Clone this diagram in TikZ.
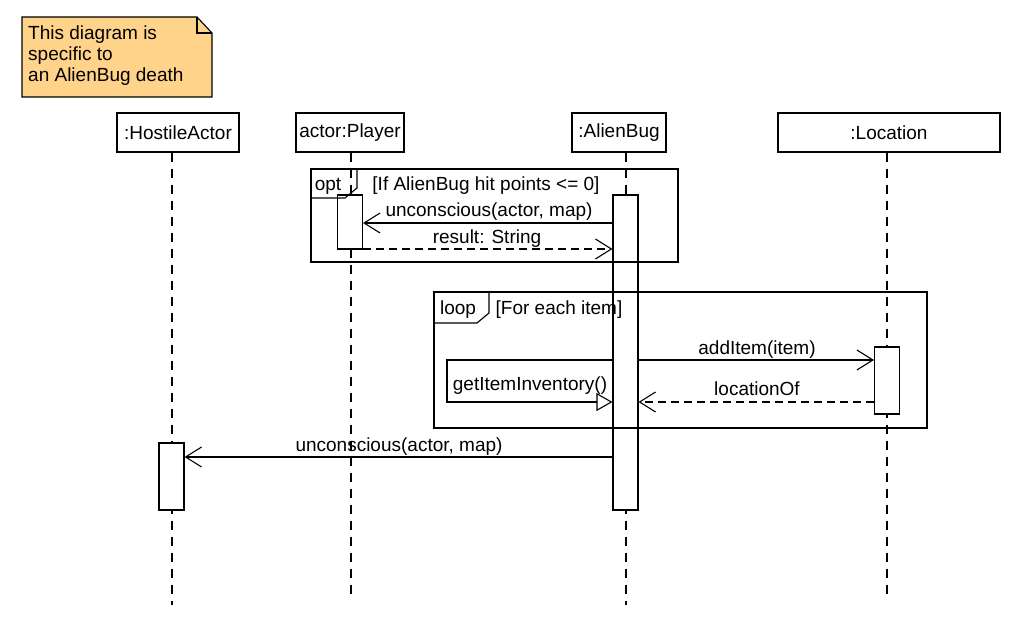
\documentclass[tikz,border=0pt]{standalone}
\usepackage{fontspec}
\setmainfont{Liberation Sans}
\usetikzlibrary{arrows.meta}
\definecolor{notefill}{RGB}{255,211,137}
\begin{document}
\begin{tikzpicture}[x=1pt,y=-1pt,
  lw/.style={line width=1.1pt},
  txt/.style={font=\fontsize{19}{21}\selectfont, inner sep=0pt},
  head/.style={draw, lw, fill=white, minimum height=39pt, inner sep=0pt, txt},
  life/.style={lw, dash pattern=on 9pt off 7pt},
  act/.style={draw, lw, fill=white, minimum width=25pt, inner sep=0pt},
  frm/.style={draw, lw},
  msg/.style={lw, -{Straight Barb[length=16pt,width=20pt,line width=1.1pt]}},
  ret/.style={msg, dash pattern=on 8pt off 5pt},
  selfmsg/.style={lw, -{Triangle[open,length=16pt,width=18pt,line width=1.1pt,fill=white]}},
]
\useasboundingbox (0,0) rectangle (1017,617);
\fill[white] (0,0) rectangle (1017,617);

% note
\path[draw, lw, fill=notefill] (22,17) -- (197,17) -- (212,33) -- (212,97) -- (22,97) -- cycle;
\draw[lw] (197,17) -- (197,33) -- (212,33);
\node[txt, align=left, anchor=north west] (note) at (28,25.8) {This diagram is\\specific to\\an AlienBug death};

% lifeline heads
\node[head, minimum width=122pt] (hA) at (178,132.5) {:HostileActor};
\node[head, minimum width=108pt] (pl) at (350,132.5) {actor:Player};
\node[head, minimum width=94pt]  (ab) at (619,132.5) {:AlienBug};
\node[head, minimum width=222pt] (lo) at (889,132.5) {:Location};

% lifeline ends
\coordinate (hAend) at (172,605);
\coordinate (plend) at (351,595);
\coordinate (abend) at (626,605);
\coordinate (loend) at (887,597);

\draw[life] (hAend |- hA.south) -- (hAend);
\draw[life] (plend |- pl.south) -- (plend);
\draw[life] (abend |- ab.south) -- (abend);
\draw[life] (loend |- lo.south) -- (loend);

% activations
\node[act, minimum height=54pt]  (actP) at (350,222) {};
\node[act, minimum height=315pt] (actAB) at (625.5,352.5) {};
\node[act, minimum height=67pt]  (actL) at (887,380.5) {};
\node[act, minimum height=67pt]  (actH) at (171.5,476.5) {};

% opt fragment
\draw[frm] (311,169) rectangle (678,262);
\draw[lw] (311,198) -- (345,198) -- (357,188) -- (357,169);
\node[txt] (optlbl) at (328,186) {opt};
\node[txt] (optg) at (486,186) {[If AlienBug hit points <= 0]};

% loop fragment
\draw[frm] (434,292) rectangle (927,428);
\draw[lw] (434,323) -- (477,323) -- (489,313) -- (489,292);
\node[txt] (looplbl) at (458,310) {loop};
\node[txt] (loopg) at (559,310) {[For each item]};

% messages
\draw[msg] (actAB.west |- 0,223) -- (actP.east |- 0,223);
\node[txt] (m1) at (489,212) {unconscious(actor, map)};
\draw[ret] (actP.east |- 0,249) -- (actAB.west |- 0,249);
\node[txt] (r1) at (487,239) {result: String};

\draw[msg] (actAB.east |- 0,360) -- (actL.west |- 0,360);
\node[txt] (m2) at (757,350) {addItem(item)};
\draw[ret] (actL.west |- 0,402) -- (actAB.east |- 0,402);
\node[txt] (r2) at (757,389) {locationOf};

\coordinate (s1) at (447,360);
\coordinate (s2) at (447,402);
\draw[selfmsg] (actAB.west |- s1) -- (s1) -- (s2) -- (actAB.west |- s2);
\node[txt] (m3) at (530,386) {getItemInventory()};

\draw[msg] (actAB.west |- 0,457) -- (actH.east |- 0,457);
\node[txt] (m4) at (399,447) {unconscious(actor, map)};
\end{tikzpicture}
\end{document}
